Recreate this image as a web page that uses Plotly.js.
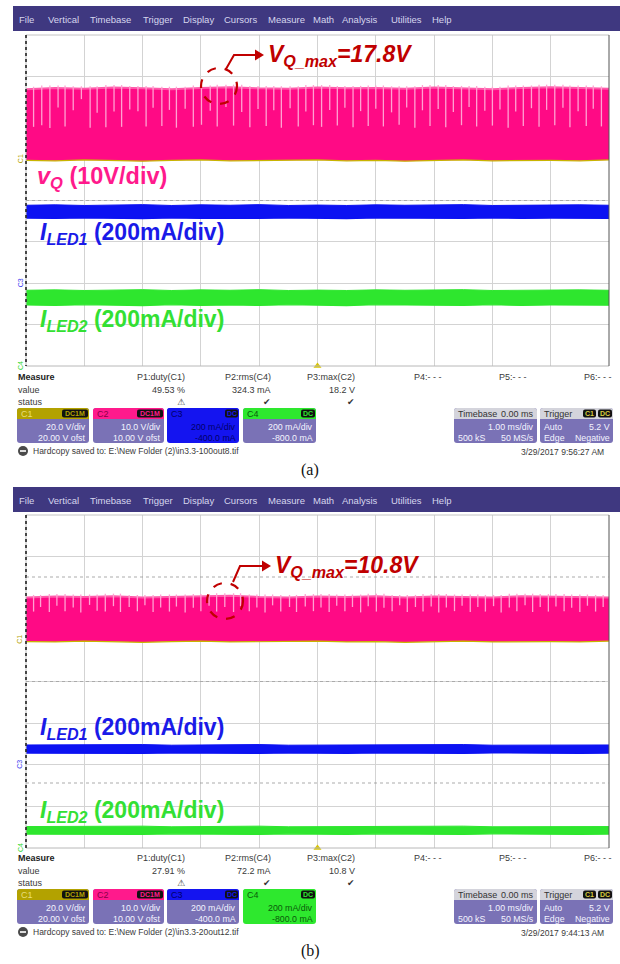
<!DOCTYPE html>
<html><head><meta charset="utf-8">
<script src="https://cdn.plot.ly/plotly-3.0.1.min.js"></script>
<style>html,body{margin:0;padding:0;background:#fff}</style>
</head><body><div id="chart" style="width:620px;height:964px"></div>
<script>
// ================= DATA =================
const tEnv = [-5,-4.5,-4,-3.5,-3,-2.5,-2,-1.5,-1,-0.5,0,0.5,1,1.5,2,2.5,3,3.5,4,4.5,5]; // ms
// Panel (a)
const vqA_hi = [16.9,17.2,17.0,17.3,17.1,16.9,17.2,17.4,17.1,17.0,17.3,17.1,17.2,17.0,17.3,17.1,16.9,17.2,17.4,17.2,17.0];
const vqA_lo = [-0.3,-0.4,-0.2,-0.3,-0.5,-0.3,-0.2,-0.4,-0.3,-0.3,-0.2,-0.4,-0.3,-0.5,-0.3,-0.2,-0.4,-0.3,-0.3,-0.4,-0.2];
const led1A_hi = [377,379,376,378,380,376,379,377,380,376,378,376,379,377,378,380,376,378,377,379,377];
const led1A_lo = [315,313,316,314,312,316,313,315,313,316,314,312,316,314,315,313,316,313,315,313,314];
const led2A_hi = [366,368,365,367,369,365,368,366,369,365,367,365,368,366,367,369,365,367,366,368,366];
const led2A_lo = [295,293,296,294,292,296,293,295,293,296,294,292,296,294,295,293,296,293,295,293,294];
const dipA_t = [-4.87,-4.73,-4.59,-4.45,-4.33,-4.19,-4.05,-3.90,-3.78,-3.63,-3.49,-3.36,-3.22,-3.08,-2.94,-2.82,-2.67,-2.54,-2.42,-2.27,-2.13,-1.99,-1.84,-1.72,-1.57,-1.44,-1.30,-1.16,-1.02,-0.88,-0.75,-0.62,-0.47,-0.33,-0.20,-0.07,
  0.07,0.21,0.34,0.47,0.61,0.74,0.87,1.00,1.13,1.27,1.40,1.53,1.67,1.80,1.93,2.07,2.20,2.33,2.47,2.60,2.73,2.87,3.00,3.13,3.27,3.40,3.53,3.67,3.80,3.93,4.07,4.21,4.33,4.47,4.61,4.73,4.87];
const dipA_v = [7.8,8.2,7.5,12.5,7.9,11.8,14.5,7.6,11.2,7.7,11.5,7.8,12.0,11.6,7.9,12.4,8.0,11.9,7.6,12.2,7.8,8.3,11.7,7.9,12.6,8.1,11.4,7.7,12.1,8.0,11.8,7.6,12.3,7.9,11.5,8.2,
  7.8,11.9,8.1,12.4,7.7,11.6,8.0,12.2,7.9,11.3,8.3,12.5,7.6,11.8,8.0,12.1,7.7,11.4,8.2,12.6,7.9,11.7,8.1,12.0,7.6,11.5,8.0,12.3,7.8,11.9,8.2,12.4,7.7,11.6,8.0,12.2,7.9];
// Panel (b)
const vqB_hi = [10.2,10.4,10.3,10.5,10.2,10.3,10.4,10.6,10.3,10.2,10.4,10.3,10.5,10.2,10.4,10.3,10.2,10.5,10.4,10.3,10.2];
const vqB_lo = [-0.4,-0.5,-0.3,-0.5,-0.6,-0.4,-0.3,-0.5,-0.4,-0.4,-0.3,-0.5,-0.4,-0.6,-0.4,-0.3,-0.5,-0.4,-0.4,-0.5,-0.3];
const led1B_hi = [95,96,94,96,97,94,95,95,97,94,95,94,96,95,96,97,94,95,94,96,95];
const led1B_lo = [56,55,57,55,54,57,55,56,54,57,56,54,57,55,56,54,57,55,56,54,56];
const led2B_hi = [103,104,102,104,105,102,103,103,105,102,103,101,104,103,104,105,102,103,102,104,103];
const led2B_lo = [67,66,68,66,65,68,66,67,65,68,67,65,68,66,67,65,68,66,67,65,67];
const dipB_t = [-4.87,-4.75,-4.60,-4.47,-4.33,-4.19,-4.06,-3.91,-3.78,-3.64,-3.50,-3.38,-3.23,-3.09,-2.96,-2.82,-2.69,-2.54,-2.42,-2.27,-2.13,-2.00,-1.86,-1.73,-1.59,-1.44,-1.32,-1.17,-1.04,-0.90,-0.77,-0.63,-0.48,-0.36,-0.21,-0.07,
  0.06,0.20,0.33,0.47,0.60,0.74,0.87,1.01,1.14,1.28,1.41,1.54,1.68,1.81,1.95,2.08,2.21,2.35,2.48,2.62,2.75,2.88,3.02,3.15,3.29,3.42,3.56,3.69,3.82,3.96,4.09,4.23,4.36,4.50,4.63,4.77,4.90];
const dipB_v = [6.8,7.9,6.7,8.2,6.9,7.8,6.6,8.4,7.0,6.8,8.1,6.7,7.9,6.9,8.3,6.7,7.8,6.8,8.0,6.6,7.7,6.9,8.2,6.8,7.9,6.7,8.1,6.9,7.8,6.6,8.3,6.8,7.9,6.7,8.0,6.9,
  7.8,6.7,8.2,6.9,7.9,6.6,8.1,6.8,7.7,6.9,8.3,6.7,7.9,6.8,8.0,6.6,7.8,6.9,8.2,6.7,7.9,6.8,8.1,6.6,7.8,6.9,8.3,6.7,7.9,6.8,8.0,6.9,7.7,6.7,8.2,6.8,7.9];
const vqMax = ['17.8V','10.8V'];
const trigTime = 0, trigLevel = 5.2; // ms, V (C1)
// text tables
const menuItems = ['File','Vertical','Timebase','Trigger','Display','Cursors','Measure','Math','Analysis','Utilities','Help'];
const measNames = ['P1:duty(C1)','P2:rms(C4)','P3:max(C2)','P4:- - -','P5:- - -','P6:- - -'];
const measValA = ['49.53 %','324.3 mA','18.2 V'];
const measValB = ['27.91 %','72.2 mA','10.8 V'];
const measStatus = ['\u26A0','\u2714','\u2714'];
const chNames = ['C1','C2','C3','C4'];
const chCoupling = ['DC1M','DC1M','DC','DC'];
const chScale = ['20.0 V/div','10.0 V/div','200 mA/div','200 mA/div'];
const chOfst = ['20.00 V ofst','10.00 V ofst','-400.0 mA','-800.0 mA'];
const hardcopy = ['Hardcopy saved to: E:\\New Folder (2)\\in3.3-100out8.tif','Hardcopy saved to: E:\\New Folder (2)\\in3.3-20out12.tif'];
const stamps = ['3/29/2017 9:56:27 AM','3/29/2017 9:44:13 AM'];
const panelTags = ['(a)','(b)'];

// ================= LAYOUT HELPERS =================
const W=620,H=964;
const P=x=>x/W, Q=y=>1-y/H;
const shapes=[], ann=[];
const SANS='Liberation Sans, Arial, sans-serif';
function txt(x,y,t,o){o=o||{};ann.push({xref:'paper',yref:'paper',x:P(x),y:Q(y),text:t,showarrow:false,
  xanchor:o.xa||'left',yanchor:o.ya||'middle',textangle:o.rot||0,borderpad:0,
  font:{family:o.f||SANS,size:o.s||9,color:o.c||'#3a3a3a'}});}
function rr(x0,y0,x1,y1,rt,rb){const f=(x,y)=>P(x)+','+Q(y);
  return 'M'+f(x0+rt,y0)+' L'+f(x1-rt,y0)+' Q'+f(x1,y0)+' '+f(x1,y0+rt)+' L'+f(x1,y1-rb)+' Q'+f(x1,y1)+' '+f(x1-rb,y1)+
  ' L'+f(x0+rb,y1)+' Q'+f(x0,y1)+' '+f(x0,y1-rb)+' L'+f(x0,y0+rt)+' Q'+f(x0,y0)+' '+f(x0+rt,y0)+' Z';}
function pathS(p,fill){shapes.push({type:'path',xref:'paper',yref:'paper',path:p,fillcolor:fill,line:{width:0},layer:'above'});}
function rect(x0,y0,x1,y1,fill){shapes.push({type:'rect',xref:'paper',yref:'paper',x0:P(x0),x1:P(x1),y0:Q(y1),y1:Q(y0),fillcolor:fill,line:{width:0},layer:'above'});}
function line(x0,y0,x1,y1,c,w,dash){shapes.push({type:'line',xref:'paper',yref:'paper',x0:P(x0),x1:P(x1),y0:Q(y0),y1:Q(y1),line:{color:c,width:w,dash:dash||'solid'},layer:'above'});}

const BODY='#7a72b6';
const chHdr=['#b3a200','#ff1a8c','#1414f0','#2ee82e'];
const chHdrTxt=['#e8de7a','#8a0048','#00006a','#0a5a0a'];

function panel(k){
  const dy=k*481;
  const gTop=[35,515][k], gBot=[366,848][k];
  // menu bar
  rect(13,6+dy,620,31+dy,'#3f3880');
  const mx=[18,47,89,142,182,223,267,312,341,390,431];
  menuItems.forEach((m,i)=>txt(mx[i],19+dy,m,{s:9.5,c:'#d6d6ee'}));
  // grid borders
  line(26,gTop,609,gTop,'#c4c4c4',1);
  line(26,gBot,609,gBot,'#b8b8b8',1);
  line(609,gTop,609,gBot,'#555',1);
  line(26,gTop,26,gBot,'#bbb',1);
  line(26,gTop,26,gBot,'#222',1.6,'dot');
  line(26,(gTop+gBot)/2,609,(gTop+gBot)/2,'#aaa',1,'dot');
  if(k===1){ line(26,577,609,577,'rgba(150,150,150,0.8)',1,'dot'); line(26,783,609,783,'rgba(150,150,150,0.8)',1,'dot'); }
  // measure table
  txt(17,377+dy,'<b>Measure</b>',{s:9,c:'#222'});
  txt(17,390+dy,'value',{s:9});
  txt(17,402+dy,'status',{s:9});
  const mxr=[186,272,356,443,528,613];
  const vals=k?measValB:measValA;
  measNames.forEach((m,i)=>txt(mxr[i],377+dy,m,{xa:'right',s:9}));
  vals.forEach((v,i)=>txt(mxr[i],390+dy,v,{xa:'right',s:9}));
  measStatus.forEach((v,i)=>txt(mxr[i]-5,402+dy,v,{xa:'center',s:9,c:'#333',f:'DejaVu Sans'}));
  // channel boxes
  const bx=[[17,89],[93,164],[167,239],[243,316]];
  const badgeW=[26,26,13,14];
  const sel = k===0?2:3;
  const y0=408+dy,y1=443+dy;
  bx.forEach((b,i)=>{
    const full=(i===sel);
    pathS(rr(b[0],y0,b[1],y1,3,3), full?chHdr[i]:BODY);
    pathS(rr(b[0],y0,b[1],y0+11,3,0), chHdr[i]);
    txt(b[0]+3,y0+5.8,chNames[i],{s:9,c:chHdrTxt[i]});
    pathS(rr(b[1]-1-badgeW[i],y0+1.5,b[1]-1,y0+9.5,2,2),'#111');
    txt(b[1]-1-badgeW[i]/2,y0+5.8,'<b>'+chCoupling[i]+'</b>',{xa:'center',s:7,c:chHdr[i]});
    const tc= full?chHdrTxt[i]:'#f4f4ff';
    txt(b[1]-2,y0+19,chScale[i],{xa:'right',s:8.8,c:tc});
    txt(b[1]-2,y0+30,chOfst[i],{xa:'right',s:8.8,c:tc});
  });
  // timebase box
  pathS(rr(454,y0,537,y1,3,3),BODY);
  pathS(rr(454,y0,537,y0+11,3,0),'#d4d4dc');
  txt(457,y0+5.8,'Timebase',{s:9,c:'#333'});
  txt(535,y0+5.8,'0.00 ms',{xa:'right',s:9,c:'#333'});
  txt(535,y0+19,'1.00 ms/div',{xa:'right',s:8.8,c:'#f4f4ff'});
  txt(457,y0+30,'500 kS',{s:8.8,c:'#f4f4ff'});
  txt(535,y0+30,'50 MS/s',{xa:'right',s:8.8,c:'#f4f4ff'});
  // trigger box
  pathS(rr(540,y0,613,y1,3,3),BODY);
  pathS(rr(540,y0,613,y0+11,3,0),'#d4d4dc');
  txt(543,y0+5.8,'Trigger',{s:9,c:'#333'});
  pathS(rr(583,y0+1.5,596,y0+9.5,2,2),'#111');
  pathS(rr(598,y0+1.5,612,y0+9.5,2,2),'#111');
  txt(589.5,y0+5.8,'<b>C1</b>',{xa:'center',s:7,c:'#d8cc40'});
  txt(605,y0+5.8,'<b>DC</b>',{xa:'center',s:7,c:'#d8cc40'});
  txt(543,y0+19,'Auto',{s:8.8,c:'#f4f4ff'});
  txt(611,y0+19,'5.2 V',{xa:'right',s:8.8,c:'#f4f4ff'});
  txt(543,y0+30,'Edge',{s:8.8,c:'#f4f4ff'});
  txt(611,y0+30,'Negative',{xa:'right',s:8.8,c:'#f4f4ff'});
  // hardcopy line
  shapes.push({type:'circle',xref:'paper',yref:'paper',x0:P(18),x1:P(28),y0:Q(456+dy),y1:Q(446+dy),fillcolor:'#4a4a4a',line:{width:0},layer:'above'});
  rect(20,450+dy,26,452+dy,'#ddd');
  txt(32,451+dy,hardcopy[k],{s:8.5,c:'#3a3a3a'});
  txt(605,452+dy,stamps[k],{xa:'right',s:8.5,c:'#3a3a3a'});
  txt(310,470+dy,panelTags[k],{xa:'center',s:16,c:'#111',f:'Liberation Serif, Times New Roman, serif'});
}
panel(0); panel(1);

// annotation circles + arrows (dark red)
const RED='#c00000';
[[219,86,226,69,234,55,256],[225,601,233,582,240,566,263]].forEach((a,k)=>{
  shapes.push({type:'circle',xref:'paper',yref:'paper',x0:P(a[0]-18),x1:P(a[0]+18),y0:Q(a[1]+18),y1:Q(a[1]-18),line:{color:RED,width:2.2,dash:'dash'},layer:'above'});
  const f=(x,y)=>P(x)+','+Q(y);
  shapes.push({type:'path',xref:'paper',yref:'paper',path:'M'+f(a[2],a[3])+' L'+f(a[4],a[5])+' L'+f(a[6],a[5]),line:{color:RED,width:2},layer:'above'});
  shapes.push({type:'path',xref:'paper',yref:'paper',path:'M'+f(a[6]-1,a[5]-5.5)+' L'+f(a[6]+8,a[5])+' L'+f(a[6]-1,a[5]+5.5)+' Z',fillcolor:RED,line:{width:0},layer:'above'});
  txt(a[6]+11,a[5],'<b><i>V<sub>Q_max</sub>='+vqMax[k]+'</i></b>',{s:23,c:RED});
});

// waveform labels
const PINK='#ff0a85', BLUE='#0c12f2', GREEN='#2ee62e';
txt(36,177,'<b><i>v</i><sub><i>Q</i></sub> (10V/div)</b>',{s:23.5,c:'#ff1a8c'});
txt(39,233,'<b><i>I</i><sub><i>LED1</i></sub> (200mA/div)</b>',{s:23,c:'#1a1ae8'});
txt(39,321,'<b><i>I</i><sub><i>LED2</i></sub> (200mA/div)</b>',{s:23,c:'#33e033'});
txt(39,728,'<b><i>I</i><sub><i>LED1</i></sub> (200mA/div)</b>',{s:23,c:'#1a1ae8'});
txt(39,811,'<b><i>I</i><sub><i>LED2</i></sub> (200mA/div)</b>',{s:23,c:'#33e033'});

// channel ground markers (at 0 on each channel axis)
[['C1','y7','#b3a200'],['C3','y3','#3a3af0'],['C4','y4','#2ed82e'],['C1','y8','#b3a200'],['C3','y5','#3a3af0'],['C4','y6','#2ed82e']].forEach(m=>{
  ann.push({xref:'paper',x:P(20),yref:m[1],y:0,text:m[0],showarrow:false,textangle:-90,xanchor:'center',yanchor:'middle',font:{family:SANS,size:7,color:m[2]}});
});

// ================= TRACES =================
const traces=[];
function band(lo,hi,color,xa,ya,lineLo,lineHi,wHi){
  traces.push({x:tEnv,y:lo,xaxis:xa,yaxis:ya,mode:'lines',line:{color:lineLo||color,width:1.2},hoverinfo:'skip'});
  traces.push({x:tEnv,y:hi,xaxis:xa,yaxis:ya,mode:'lines',fill:'tonexty',fillcolor:color,line:{color:lineHi||color,width:wHi||1},hoverinfo:'skip'});
}
function dips(ts,vs,hi,xa,ya){
  const x=[],y=[];
  ts.forEach((t,i)=>{let j=0,b=1e9;tEnv.forEach((te,jj)=>{if(Math.abs(te-t)<b){b=Math.abs(te-t);j=jj;}});
    x.push(t,t,null);y.push(hi[j]+0.6,vs[i],null);});
  traces.push({x,y,xaxis:xa,yaxis:ya,mode:'lines',line:{color:'#ffa2d2',width:1.3},hoverinfo:'skip'});
}
band(vqA_lo,vqA_hi,PINK,'x','y','#c9b400','#ff5aaa',2);
dips(dipA_t,dipA_v,vqA_hi,'x','y');
band(led1A_lo,led1A_hi,BLUE,'x','y3');
band(led2A_lo,led2A_hi,GREEN,'x','y4');
band(vqB_lo,vqB_hi,PINK,'x2','y2','#c9b400','#ff5aaa',2);
dips(dipB_t,dipB_v,vqB_hi,'x2','y2');
band(led1B_lo,led1B_hi,BLUE,'x2','y5');
band(led2B_lo,led2B_hi,GREEN,'x2','y6');
// trigger markers
[['x','y7','y'],['x2','y8','y2']].forEach(a=>{
  traces.push({x:[trigTime],y:[-50],xaxis:a[0],yaxis:a[2],mode:'markers',marker:{symbol:'triangle-up',size:7,color:'#d8c400'},cliponaxis:false,hoverinfo:'skip'});
  traces.push({x:[5.12],y:[trigLevel],xaxis:a[0],yaxis:a[1],mode:'markers',marker:{symbol:'triangle-left',size:7,color:'#d8c400'},cliponaxis:false,hoverinfo:'skip'});
});

const GRID='#d3d3d3';
function xa(anchor){return {domain:[P(26),P(609)],range:[-5,5],dtick:1,tick0:0,showgrid:true,gridcolor:GRID,gridwidth:1,zeroline:false,showticklabels:false,ticks:'',showline:false,anchor:anchor,fixedrange:true};}
function ya(dom,range,anchor){return {domain:dom,range:range,dtick:(range[1]-range[0])/8,tick0:range[0],showgrid:true,gridcolor:GRID,gridwidth:1,zeroline:false,showticklabels:false,ticks:'',showline:false,anchor:anchor,fixedrange:true};}
function yo(over,range,anchor){return {overlaying:over,range:range,visible:false,showgrid:false,zeroline:false,anchor:anchor,fixedrange:true};}
const domA=[Q(366),Q(35)], domB=[Q(848),Q(515)];
const layout={width:W,height:H,autosize:false,margin:{l:0,r:0,t:0,b:0},paper_bgcolor:'#fff',plot_bgcolor:'#fff',showlegend:false,
  xaxis:xa('y'), xaxis2:xa('y2'),
  yaxis:ya(domA,[-50,30],'x'), yaxis2:ya(domB,[-50,30],'x2'),
  yaxis3:yo('y',[-400,1200],'x'), yaxis4:yo('y',[0,1600],'x'), yaxis7:yo('y',[-100,60],'x'),
  yaxis5:yo('y2',[-400,1200],'x2'), yaxis6:yo('y2',[0,1600],'x2'), yaxis8:yo('y2',[-100,60],'x2'),
  shapes:shapes, annotations:ann};
Plotly.newPlot('chart',traces,layout,{staticPlot:true,displayModeBar:false});
</script></body></html>
